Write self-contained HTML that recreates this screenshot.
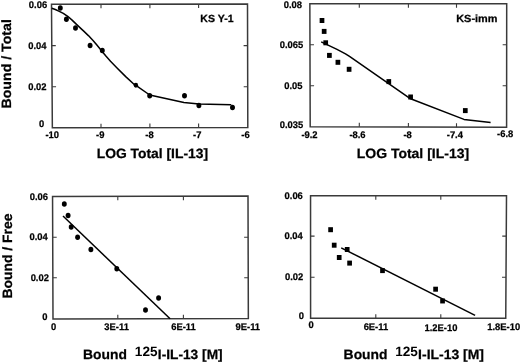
<!DOCTYPE html>
<html><head><meta charset="utf-8"><style>
html,body{margin:0;padding:0;background:#fff;width:520px;height:362px;overflow:hidden}
svg{display:block;will-change:transform}
text{font-family:"Liberation Sans", sans-serif;font-weight:bold;text-rendering:geometricPrecision;fill:#000;stroke:#000;stroke-width:0.25}
</style></head><body>
<svg width="520" height="362" viewBox="0 0 520 362">
<path d="M51.5 4.3L247.5 4.05L247.8 127.4L52.35 127.7Z" fill="none" stroke="#3a3a3a" stroke-width="1.5" stroke-linejoin="miter"/>
<path d="M101.00 127.63V123.63M101.00 4.24V8.24M149.90 127.55V123.55M149.90 4.17V8.17M198.60 127.48V123.48M198.60 4.11V8.11M51.78 45.60H55.78M247.60 45.60H243.60M52.07 86.70H56.07M247.70 86.70H243.70" stroke="#3a3a3a" stroke-width="1.1" fill="none"/>
<text x="28.85" y="7.91" font-size="9.6" textLength="18.30" lengthAdjust="spacingAndGlyphs">0.06</text>
<text x="28.26" y="48.71" font-size="9.6" textLength="18.30" lengthAdjust="spacingAndGlyphs">0.04</text>
<text x="28.25" y="89.76" font-size="9.6" textLength="18.30" lengthAdjust="spacingAndGlyphs">0.02</text>
<text x="39.01" y="126.91" font-size="9.6" textLength="5.23" lengthAdjust="spacingAndGlyphs">0</text>
<text x="45.48" y="138.16" font-size="9.6" textLength="13.59" lengthAdjust="spacingAndGlyphs">-10</text>
<text x="96.12" y="137.96" font-size="9.6" textLength="8.36" lengthAdjust="spacingAndGlyphs">-9</text>
<text x="145.32" y="137.66" font-size="9.6" textLength="8.36" lengthAdjust="spacingAndGlyphs">-8</text>
<text x="193.06" y="137.86" font-size="9.6" textLength="8.36" lengthAdjust="spacingAndGlyphs">-7</text>
<text x="241.32" y="137.66" font-size="9.6" textLength="8.36" lengthAdjust="spacingAndGlyphs">-6</text>
<path d="M51.8 8.2 L55.3 9.5 L58.8 11.1 L63.3 13.3 L67.7 16.3 L72.1 20.1 L76.5 24.4 L81 28.6 L84 31.4 L88.4 35.6 L92.8 40.3 L97.3 45.6 L101.7 51.0 L106.1 56.3 L110.5 61.2 L116.8 67.7 L125.7 76.6 L133.7 84.0 L135.9 85.4 L149.7 95.0 L183.9 102.6 L199 103.9 L231.3 104.8" fill="none" stroke="#000" stroke-width="1.5" stroke-linejoin="round"/>
<ellipse cx="60.3" cy="8.1" rx="2.45" ry="2.74" fill="#000"/>
<ellipse cx="66.4" cy="19.2" rx="2.45" ry="2.74" fill="#000"/>
<ellipse cx="75.5" cy="27.9" rx="2.45" ry="2.74" fill="#000"/>
<ellipse cx="90.1" cy="45.6" rx="2.45" ry="2.74" fill="#000"/>
<ellipse cx="102.3" cy="50.4" rx="2.45" ry="2.74" fill="#000"/>
<ellipse cx="135.9" cy="85.3" rx="2.2" ry="2.46" fill="#000"/>
<ellipse cx="149.7" cy="95.8" rx="2.45" ry="2.74" fill="#000"/>
<ellipse cx="184.5" cy="95.8" rx="2.45" ry="2.74" fill="#000"/>
<ellipse cx="198.9" cy="105.4" rx="2.45" ry="2.74" fill="#000"/>
<ellipse cx="232.5" cy="107.4" rx="2.45" ry="2.74" fill="#000"/>
<text x="200.36" y="21.70" font-size="10.4" textLength="33.26" lengthAdjust="spacingAndGlyphs">KS Y-1</text>
<text x="96.68" y="157.70" font-size="13.5" textLength="111.41" lengthAdjust="spacingAndGlyphs">LOG Total [IL-13]</text>
<text x="10.80" y="108.49" font-size="13.5" textLength="89.33" lengthAdjust="spacingAndGlyphs" transform="rotate(-90 10.80 108.49)">Bound / Total</text>
<path d="M309.85 3.75L506.7 3.85L506.6 127.3L310.2 126.7Z" fill="none" stroke="#3a3a3a" stroke-width="1.5" stroke-linejoin="miter"/>
<path d="M359.30 126.85V122.85M359.30 3.78V7.78M408.40 127.00V123.00M408.40 3.80V7.80M456.50 127.15V123.15M456.50 3.82V7.82M309.97 44.80H313.97M506.67 44.80H502.67M310.08 85.80H314.08M506.63 85.80H502.63" stroke="#3a3a3a" stroke-width="1.1" fill="none"/>
<text x="283.75" y="7.51" font-size="9.6" textLength="18.30" lengthAdjust="spacingAndGlyphs">0.08</text>
<text x="279.69" y="47.86" font-size="9.6" textLength="23.52" lengthAdjust="spacingAndGlyphs">0.065</text>
<text x="284.25" y="88.96" font-size="9.6" textLength="18.30" lengthAdjust="spacingAndGlyphs">0.05</text>
<text x="279.79" y="127.76" font-size="9.6" textLength="23.52" lengthAdjust="spacingAndGlyphs">0.035</text>
<text x="301.42" y="137.96" font-size="9.6" textLength="16.20" lengthAdjust="spacingAndGlyphs">-9.2</text>
<text x="349.42" y="137.81" font-size="9.6" textLength="16.20" lengthAdjust="spacingAndGlyphs">-8.6</text>
<text x="403.47" y="137.66" font-size="9.6" textLength="8.36" lengthAdjust="spacingAndGlyphs">-8</text>
<text x="446.78" y="137.81" font-size="9.6" textLength="16.20" lengthAdjust="spacingAndGlyphs">-7.4</text>
<text x="497.07" y="137.46" font-size="9.6" textLength="16.20" lengthAdjust="spacingAndGlyphs">-6.8</text>
<path d="M321.2 41.9 L337.0 49.4 L345.5 53.8 L349.5 56.3 L410.6 98.8 L464.0 119.4 L490.6 122.6" fill="none" stroke="#000" stroke-width="1.5" stroke-linejoin="round"/>
<rect x="319.65" y="18.00" width="4.7" height="5.0" fill="#000"/>
<rect x="321.80" y="28.90" width="4.7" height="5.0" fill="#000"/>
<rect x="323.35" y="40.30" width="4.7" height="5.0" fill="#000"/>
<rect x="327.05" y="52.90" width="4.7" height="5.0" fill="#000"/>
<rect x="335.55" y="59.80" width="4.7" height="5.0" fill="#000"/>
<rect x="346.75" y="66.80" width="4.7" height="5.0" fill="#000"/>
<rect x="386.45" y="79.10" width="4.7" height="5.0" fill="#000"/>
<rect x="408.25" y="94.50" width="4.7" height="5.0" fill="#000"/>
<rect x="462.95" y="108.10" width="4.7" height="5.0" fill="#000"/>
<text x="456.24" y="22.00" font-size="10.4" textLength="41.20" lengthAdjust="spacingAndGlyphs">KS-imm</text>
<text x="356.72" y="158.20" font-size="13.5" textLength="112.37" lengthAdjust="spacingAndGlyphs">LOG Total [IL-13]</text>
<path d="M52.55 196.4L248.0 196.05L248.35 318.5L53.0 319.0Z" fill="none" stroke="#3a3a3a" stroke-width="1.5" stroke-linejoin="miter"/>
<path d="M117.80 318.83V314.83M117.80 196.28V200.28M183.40 318.67V314.67M183.40 196.17V200.17M52.70 237.20H56.70M248.12 237.20H244.12M52.85 277.70H56.85M248.23 277.70H244.23" stroke="#3a3a3a" stroke-width="1.1" fill="none"/>
<text x="29.75" y="199.91" font-size="9.6" textLength="18.30" lengthAdjust="spacingAndGlyphs">0.06</text>
<text x="29.46" y="239.96" font-size="9.6" textLength="18.30" lengthAdjust="spacingAndGlyphs">0.04</text>
<text x="30.65" y="280.91" font-size="9.6" textLength="18.30" lengthAdjust="spacingAndGlyphs">0.02</text>
<text x="42.21" y="319.91" font-size="9.6" textLength="5.23" lengthAdjust="spacingAndGlyphs">0</text>
<text x="50.91" y="330.26" font-size="9.6" textLength="5.23" lengthAdjust="spacingAndGlyphs">0</text>
<text x="104.33" y="330.36" font-size="9.6" textLength="24.56" lengthAdjust="spacingAndGlyphs">3E-11</text>
<text x="171.24" y="330.36" font-size="9.6" textLength="24.56" lengthAdjust="spacingAndGlyphs">6E-11</text>
<text x="235.54" y="330.11" font-size="9.6" textLength="24.56" lengthAdjust="spacingAndGlyphs">9E-11</text>
<path d="M63.0 216.0 L170.1 318.8" fill="none" stroke="#000" stroke-width="1.5" stroke-linejoin="round"/>
<ellipse cx="64.3" cy="203.9" rx="2.45" ry="2.74" fill="#000"/>
<ellipse cx="68.1" cy="215.5" rx="2.45" ry="2.74" fill="#000"/>
<ellipse cx="71.2" cy="227.0" rx="2.45" ry="2.74" fill="#000"/>
<ellipse cx="77.6" cy="237.2" rx="2.45" ry="2.74" fill="#000"/>
<ellipse cx="90.9" cy="249.5" rx="2.45" ry="2.74" fill="#000"/>
<ellipse cx="116.8" cy="268.8" rx="2.45" ry="2.74" fill="#000"/>
<ellipse cx="158.6" cy="298.0" rx="2.45" ry="2.74" fill="#000"/>
<ellipse cx="145.5" cy="310.0" rx="2.45" ry="2.74" fill="#000"/>
<text x="11.80" y="298.47" font-size="13.5" textLength="84.91" lengthAdjust="spacingAndGlyphs" transform="rotate(-90 11.80 298.47)">Bound / Free</text>
<text x="83.03" y="358.70" font-size="13.5" textLength="43.88" lengthAdjust="spacingAndGlyphs">Bound</text>
<text x="134.88" y="355.60" font-size="13.5" textLength="22.71" lengthAdjust="spacingAndGlyphs" style="stroke-width:0">125</text>
<text x="157.84" y="358.70" font-size="13.5" textLength="64.81" lengthAdjust="spacingAndGlyphs">I-IL-13 [M]</text>
<path d="M310.55 195.65L506.5 195.85L505.75 318.3L310.6 318.3Z" fill="none" stroke="#3a3a3a" stroke-width="1.5" stroke-linejoin="miter"/>
<path d="M375.80 318.30V314.30M375.80 195.72V199.72M440.80 318.30V314.30M440.80 195.78V199.78M310.57 236.10H314.57M506.25 236.10H502.25M310.58 277.30H314.58M506.00 277.30H502.00" stroke="#3a3a3a" stroke-width="1.1" fill="none"/>
<text x="284.55" y="199.26" font-size="9.6" textLength="18.30" lengthAdjust="spacingAndGlyphs">0.06</text>
<text x="284.46" y="239.26" font-size="9.6" textLength="18.30" lengthAdjust="spacingAndGlyphs">0.04</text>
<text x="284.95" y="280.11" font-size="9.6" textLength="18.30" lengthAdjust="spacingAndGlyphs">0.02</text>
<text x="298.71" y="319.26" font-size="9.6" textLength="5.23" lengthAdjust="spacingAndGlyphs">0</text>
<text x="308.62" y="328.41" font-size="9.6" textLength="5.23" lengthAdjust="spacingAndGlyphs">0</text>
<text x="363.64" y="330.01" font-size="9.6" textLength="24.56" lengthAdjust="spacingAndGlyphs">6E-11</text>
<text x="424.46" y="330.81" font-size="9.6" textLength="32.92" lengthAdjust="spacingAndGlyphs">1.2E-10</text>
<text x="487.26" y="330.21" font-size="9.6" textLength="32.92" lengthAdjust="spacingAndGlyphs">1.8E-10</text>
<path d="M341.2 247.8 L475.1 315.4" fill="none" stroke="#000" stroke-width="1.5" stroke-linejoin="round"/>
<rect x="328.25" y="227.20" width="4.7" height="5.0" fill="#000"/>
<rect x="331.85" y="242.70" width="4.7" height="5.0" fill="#000"/>
<rect x="336.85" y="255.00" width="4.7" height="5.0" fill="#000"/>
<rect x="344.85" y="247.00" width="4.7" height="5.0" fill="#000"/>
<rect x="347.25" y="260.60" width="4.7" height="5.0" fill="#000"/>
<rect x="380.15" y="268.10" width="4.7" height="5.0" fill="#000"/>
<rect x="433.25" y="286.70" width="4.7" height="5.0" fill="#000"/>
<rect x="440.20" y="298.45" width="4.7" height="5.0" fill="#000"/>
<text x="343.63" y="358.70" font-size="13.5" textLength="43.88" lengthAdjust="spacingAndGlyphs">Bound</text>
<text x="395.18" y="355.60" font-size="13.5" textLength="22.71" lengthAdjust="spacingAndGlyphs" style="stroke-width:0">125</text>
<text x="418.12" y="358.70" font-size="13.5" textLength="65.84" lengthAdjust="spacingAndGlyphs">I-IL-13 [M]</text>
</svg>
</body></html>
